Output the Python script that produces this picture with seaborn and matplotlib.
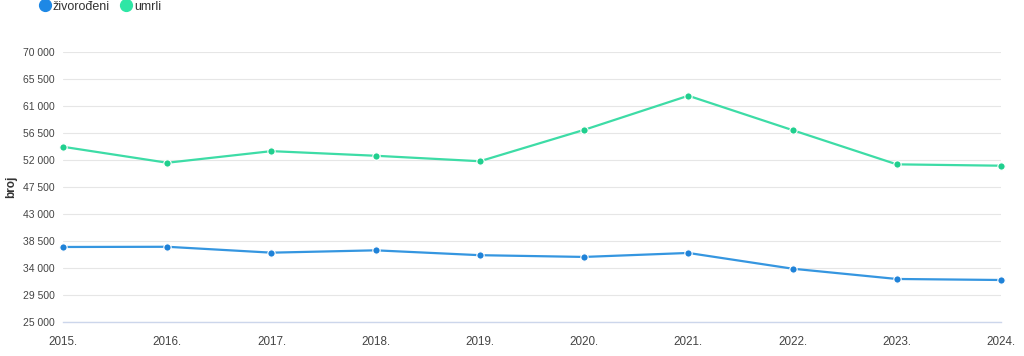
import matplotlib
matplotlib.use("Agg")
import matplotlib.pyplot as plt
from matplotlib.lines import Line2D
from matplotlib.ticker import FuncFormatter
import seaborn as sns
import pandas as pd

years = [2015, 2016, 2017, 2018, 2019, 2020, 2021, 2022, 2023, 2024]
year_labels = ["2015.", "2016.", "2017.", "2018.", "2019.", "2020.", "2021.", "2022.", "2023.", "2024."]
zivorodeni = [37503, 37537, 36556, 36945, 36135, 35845, 36508, 33883, 32171, 32000]
umrli = [54205, 51542, 53477, 52706, 51794, 57023, 62712, 56979, 51275, 51050]
series_names = ["živorođeni", "umrli"]
y_ticks = [25000, 29500, 34000, 38500, 43000, 47500, 52000, 56500, 61000, 65500, 70000]

df = pd.DataFrame({
    "godina": years * 2,
    "broj": zivorodeni + umrli,
    "serija": [series_names[0]] * len(years) + [series_names[1]] * len(years),
})

sns.set_theme(style="white")
plt.rcParams["font.family"] = ["Liberation Sans", "DejaVu Sans"]

line_colors = {"živorođeni": "#3596e0", "umrli": "#3ddca6"}
marker_colors = {"živorođeni": "#1f82d8", "umrli": "#20cf8e"}

fig = plt.figure(figsize=(10.24, 3.56), dpi=100)
ax = fig.add_axes([63 / 1024, 1 - 322 / 356, (1001 - 63) / 1024, (322 - 52) / 356])

sns.lineplot(data=df, x="godina", y="broj", hue="serija", palette=line_colors,
             linewidth=1.6, ax=ax, legend=False)
for name in series_names:
    sub = df[df["serija"] == name]
    sns.scatterplot(data=sub, x="godina", y="broj", color=marker_colors[name], s=28,
                    edgecolor="white", linewidth=0.8, ax=ax, legend=False, zorder=5, clip_on=False)

ax.set_xlim(years[0], years[-1])
ax.set_ylim(y_ticks[0], y_ticks[-1])
ax.set_yticks(y_ticks)
ax.yaxis.set_major_formatter(FuncFormatter(lambda v, p: f"{int(round(v)):,}".replace(",", " ")))
ax.set_xticks(years)
ax.set_xticklabels(year_labels)

ax.grid(axis="y", color="#e6e6e6", linewidth=0.8)
ax.grid(axis="x", visible=False)
for s in ["top", "right", "left"]:
    ax.spines[s].set_visible(False)
ax.spines["bottom"].set_color("#ccd6eb")
ax.spines["bottom"].set_linewidth(1)
ax.tick_params(axis="x", length=6, width=1, color="#ccd6eb", labelcolor="#444444", labelsize=8.4, pad=4)
ax.tick_params(axis="y", length=0, labelcolor="#444444", labelsize=7.5, pad=6)
ax.set_xlabel("")
ax.set_ylabel("broj", fontsize=8.5, fontweight="bold", color="#333333")
ax.yaxis.set_label_coords(-0.049, 0.5)

handles = [Line2D([], [], linestyle="none", marker="o", markersize=8.5,
                  markerfacecolor=c, markeredgecolor=c) for c in ["#1e88e5", "#2ee6a5"]]
fig.legend(handles, series_names, loc="upper left", bbox_to_anchor=(0.037, 1.0), ncol=2,
           frameon=False, handletextpad=0.15, columnspacing=0.8, handlelength=1.0,
           borderaxespad=0.0, borderpad=0.05,
           prop={"size": 9}, labelcolor="#333333")

fig.savefig("out.png", dpi=100)
